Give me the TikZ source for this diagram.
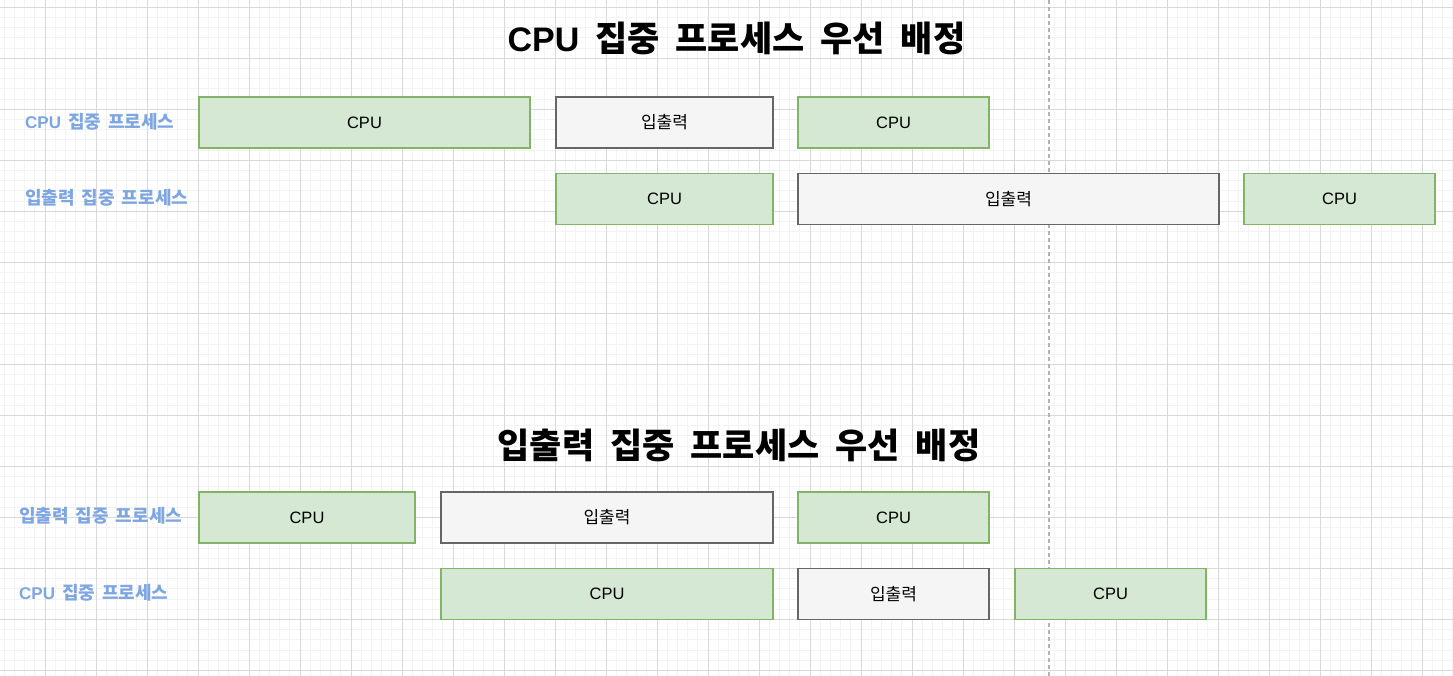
\documentclass[tikz,border=0pt]{standalone}
\usepackage{fontspec}
\setmainfont{Liberation Sans}
\setsansfont{Liberation Sans}
\newfontfamily\kr{Noto Sans CJK KR}
\newfontfamily\lat{Liberation Sans}
\newcommand\ttlsp{\hspace{16pt}}
\newcommand\lblsp{\hspace{7pt}}
\definecolor{gmajor}{HTML}{D9D9D9}
\definecolor{gminor}{HTML}{F3F3F3}
\definecolor{cpufill}{HTML}{D5E8D4}
\definecolor{cpuline}{HTML}{82B366}
\definecolor{iofill}{HTML}{F5F5F5}
\definecolor{ioline}{HTML}{666666}
\definecolor{lblue}{HTML}{7EA6E0}
\definecolor{dashgray}{HTML}{B3B3B3}
\tikzset{
  minorline/.style={draw=gminor, line width=0.8pt},
  majorline/.style={draw=gmajor, line width=1pt},
  box/.style={rectangle, line width=1.4pt, minimum height=51, inner sep=0pt, font=\lat\fontsize{16.5}{18}\selectfont},
  cpubox/.style={box, fill=cpufill, draw=cpuline},
  iobox/.style={box, fill=iofill, draw=ioline, font=\kr\fontsize{17}{19}\selectfont},
  lbl/.style={anchor=west, inner sep=0pt, text=lblue, font=\kr\bfseries\fontsize{18}{20}\selectfont},
  ttl/.style={inner sep=0pt, font=\kr\bfseries\fontsize{35}{40}\selectfont},
}
\begin{document}
\begin{tikzpicture}[x=1pt,y=-1pt]
\useasboundingbox (0,0) rectangle (1453,676);
\fill[white] (0,0) rectangle (1453,676);
% grid
\foreach \i in {0,...,143} \draw[minorline] ({-6+\i*10.2},0) -- ({-6+\i*10.2},676);
\foreach \i in {0,...,67} \draw[minorline] (0,{7.3+\i*10.2-10.2}) -- (1453,{7.3+\i*10.2-10.2});
\foreach \i in {0,...,29} \draw[majorline] ({-6+\i*51},0) -- ({-6+\i*51},676);
\foreach \i in {0,...,13} \draw[majorline] (0,{7.3+\i*51}) -- (1453,{7.3+\i*51});
% dashed marker
\coordinate (dtop) at (1049,0);
\coordinate (dbot) at (1049,676);
\draw[dashgray, line width=1.2pt, dash pattern=on 4pt off 3pt] (dtop) -- (dbot);
% titles
\node[ttl] (t1) at (736.5,38) {{\lat\bfseries\fontsize{34}{40}\selectfont CPU}\ttlsp 집중\ttlsp 프로세스\ttlsp 우선\ttlsp 배정};
\node[ttl] (t2) at (739,445) {입출력\ttlsp 집중\ttlsp 프로세스\ttlsp 우선\ttlsp 배정};
% labels
\node[lbl] (l1) at (25,122) {{\lat\bfseries\fontsize{17}{20}\selectfont CPU}\lblsp 집중\lblsp 프로세스};
\node[lbl] (l2) at (25,198) {입출력\lblsp 집중\lblsp 프로세스};
\node[lbl] (l3) at (19,516) {입출력\lblsp 집중\lblsp 프로세스};
\node[lbl] (l4) at (19,593) {{\lat\bfseries\fontsize{17}{20}\selectfont CPU}\lblsp 집중\lblsp 프로세스};
% top section
\node[cpubox, minimum width=331] (a1) at (364.5,122.5) {CPU};
\node[iobox, minimum width=217] (a2) at (664.5,122.5) {입출력};
\node[cpubox, minimum width=191] (a3) at (893.5,122.5) {CPU};
\node[cpubox, minimum width=217] (b1) at (664.5,199) {CPU};
\node[iobox, minimum width=421] (b2) at (1008.5,199) {입출력};
\node[cpubox, minimum width=191] (b3) at (1339.5,199) {CPU};
% bottom section
\node[cpubox, minimum width=216] (c1) at (307,517.5) {CPU};
\node[iobox, minimum width=332] (c2) at (607,517.5) {입출력};
\node[cpubox, minimum width=191] (c3) at (893.5,517.5) {CPU};
\node[cpubox, minimum width=332] (d1) at (607,594) {CPU};
\node[iobox, minimum width=191] (d2) at (893.5,594) {입출력};
\node[cpubox, minimum width=191] (d3) at (1110.5,594) {CPU};
\end{tikzpicture}
\end{document}
